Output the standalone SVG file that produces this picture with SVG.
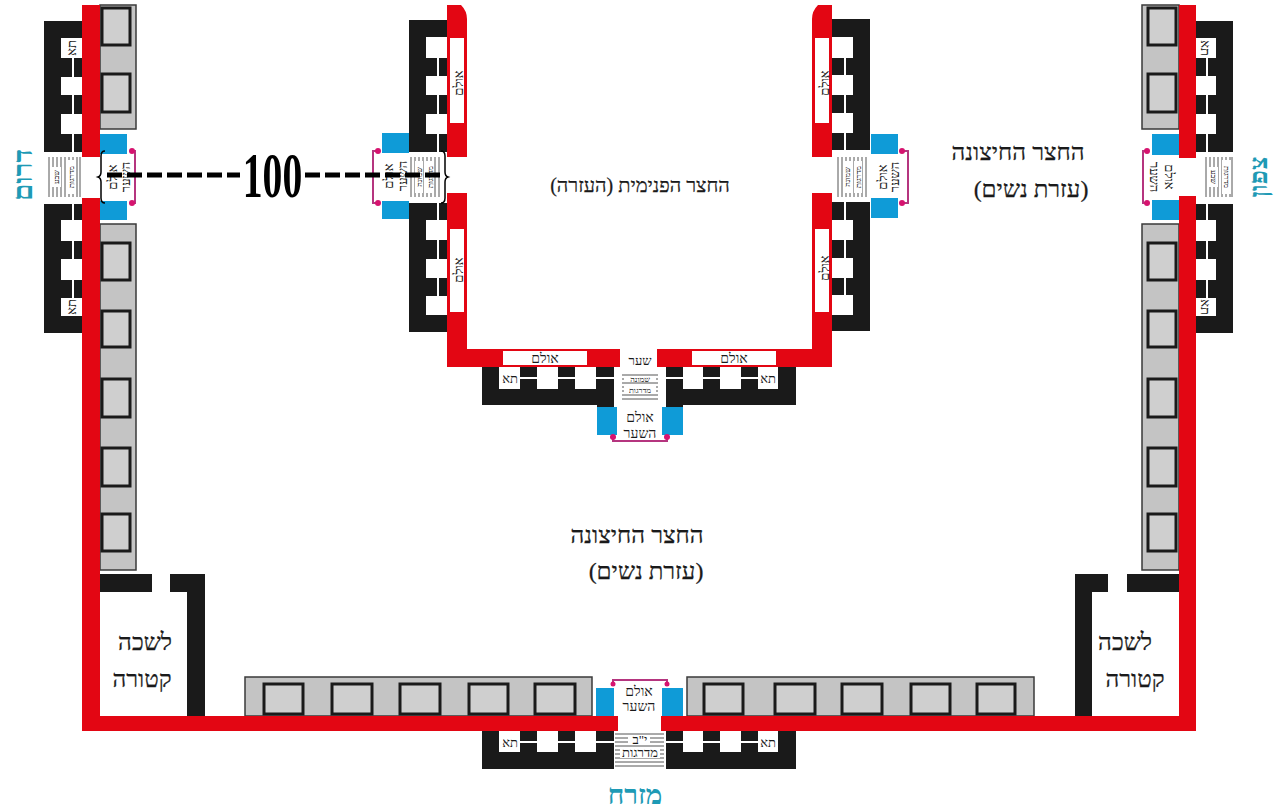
<svg xmlns="http://www.w3.org/2000/svg" width="1275" height="811" viewBox="0 0 1275 811">
<style>
.r{fill:#e30613}.k{fill:#1a1a1a}.w{fill:#fff}.b{fill:#0f9bd7}
.g{fill:#c4c4c4;stroke:#3a3a3a;stroke-width:1.5}
.q{fill:#cfcfcf;stroke:#1a1a1a;stroke-width:3}
.p{fill:none;stroke:#b5357f;stroke-width:2}
.d{fill:#d6136f}
.st{stroke:#555;stroke-width:1;fill:none}
text{font-family:"Liberation Serif","DejaVu Serif",serif;fill:#1a1a1a;text-anchor:middle;direction:rtl}
.t{font-size:13px}.m{font-size:14px}.h{font-size:24px;stroke:#1a1a1a;stroke-width:.25}
.c{fill:#1e9ab5;font-size:28px;font-weight:bold}
.s{font-size:8px}
</style>
<rect width="1275" height="811" fill="#fff"/>

<g id="court-labels">
<text class="h" x="640" y="192" style="font-size:20px">החצר הפנימית (העזרה)</text>
<text class="h" x="1018" y="160">החצר החיצונה</text>
<text class="h" x="1031" y="197">(עזרת נשים)</text>
<text class="h" x="637" y="543">החצר החיצונה</text>
<text class="h" x="646" y="579">(עזרת נשים)</text>
</g>

<g id="south-chambers">
<rect class="k" x="44" y="21" width="38" height="131"/>
<rect class="k" x="44" y="204" width="38" height="129"/>
<path class="w" d="M61 38h21v20h-21zM61 77h21v18h-21zM61 114h21v20h-21zM61 220h21v21h-21zM61 259h21v21h-21zM61 298h21v18h-21z"/>
<path class="w" d="M72 58h2v19h-2zM72 95h2v19h-2zM72 134h2v18h-2zM72 204h2v16h-2zM72 241h2v18h-2zM72 280h2v18h-2z"/>
<text class="t" transform="translate(76,48) rotate(-90)">תא</text>
<text class="t" transform="translate(76,307) rotate(-90)">תא</text>
</g>
<g id="south-gate">
<rect class="b" x="100" y="134" width="27" height="20"/>
<rect class="b" x="100" y="201" width="27" height="19"/>
<path class="st" d="M49 157v40M53 157v40M57 157v40M61 157v40M65 157v40M69 157v40M73 157v40M77 157v40M80 157v40"/>
<rect class="w" x="52" y="167" width="9" height="20"/>
<rect class="w" x="66" y="160" width="10" height="34"/>
<text class="s" transform="translate(59,177) rotate(-90)">שבע</text>
<text class="s" transform="translate(74,177) rotate(-90)">מדרגות</text>
<text class="t" transform="translate(117,177) rotate(-90)">אולם</text>
<text class="t" transform="translate(130,177) rotate(-90)">השער</text>
<path class="p" d="M132 151h3v52h-3"/>
<circle class="d" cx="132" cy="151" r="3"/><circle class="d" cx="132" cy="203" r="3"/>
</g>
<g id="south-rooms">
<rect class="g" x="100" y="5" width="36" height="124"/>
<rect class="g" x="100" y="224" width="36" height="346"/>
<rect class="q" x="102" y="8" width="28" height="37"/>
<rect class="q" x="102" y="74" width="28" height="38"/>
<rect class="q" x="102" y="243" width="28" height="37"/>
<rect class="q" x="102" y="311" width="28" height="36"/>
<rect class="q" x="102" y="379" width="28" height="38"/>
<rect class="q" x="102" y="448" width="28" height="38"/>
<rect class="q" x="102" y="514" width="28" height="37"/>
</g>

<g id="north-chambers">
<rect class="k" x="1196" y="21" width="37" height="131"/>
<rect class="k" x="1196" y="204" width="37" height="129"/>
<path class="w" d="M1196 38h20v20h-20zM1196 76h20v19h-20zM1196 114h20v20h-20zM1196 220h20v21h-20zM1196 259h20v21h-20zM1196 298h20v18h-20z"/>
<path class="w" d="M1206 58h2v18h-2zM1206 95h2v19h-2zM1206 134h2v18h-2zM1206 204h2v16h-2zM1206 241h2v18h-2zM1206 280h2v18h-2z"/>
<text class="t" transform="translate(1201,48) rotate(90)">תא</text>
<text class="t" transform="translate(1201,307) rotate(90)">תא</text>
</g>
<g id="north-gate">
<rect class="b" x="1152" y="134" width="27" height="21"/>
<rect class="b" x="1152" y="200" width="27" height="20"/>
<path class="st" d="M1206 157v40M1210 157v40M1214 157v40M1218 157v40M1222 157v40M1226 157v40M1230 157v40M1232 157v40"/>
<rect class="w" x="1209" y="167" width="9" height="20"/>
<rect class="w" x="1222" y="160" width="9" height="34"/>
<text class="s" transform="translate(1211,177) rotate(90)">שבע</text>
<text class="s" transform="translate(1224,177) rotate(90)">מדרגות</text>
<text class="t" transform="translate(1165,177) rotate(90)">אולם</text>
<text class="t" transform="translate(1150,177) rotate(90)">השער</text>
<path class="p" d="M1147 151h-4v52h4"/>
<circle class="d" cx="1147" cy="151" r="3"/><circle class="d" cx="1147" cy="203" r="3"/>
</g>
<g id="north-rooms">
<rect class="g" x="1142" y="5" width="37" height="124"/>
<rect class="g" x="1142" y="224" width="37" height="346"/>
<rect class="q" x="1148" y="8" width="28" height="37"/>
<rect class="q" x="1148" y="74" width="28" height="38"/>
<rect class="q" x="1148" y="243" width="28" height="37"/>
<rect class="q" x="1148" y="311" width="28" height="36"/>
<rect class="q" x="1148" y="379" width="28" height="38"/>
<rect class="q" x="1148" y="448" width="28" height="38"/>
<rect class="q" x="1148" y="514" width="28" height="37"/>
</g>

<g id="inner-south-wing">
<rect class="k" x="409" y="20" width="38" height="132"/>
<rect class="k" x="409" y="203" width="38" height="129"/>
<path class="w" d="M426 37h21v21h-21zM426 76h21v19h-21zM426 114h21v20h-21zM426 220h21v20h-21zM426 259h21v19h-21zM426 296h21v19h-21z"/>
<path class="w" d="M437 58h2v18h-2zM437 95h2v19h-2zM437 134h2v18h-2zM437 203h2v17h-2zM437 240h2v19h-2zM437 278h2v18h-2z"/>
<path class="r" d="M447 5h14q6 6 6 14v138h-20zM447 193h20v156h153v18h-173z"/>
<rect class="w" x="450" y="38" width="14" height="85"/>
<rect class="w" x="450" y="229" width="14" height="83"/>
<text class="t" transform="translate(463,83) rotate(-90)">אולם</text>
<text class="t" transform="translate(463,270) rotate(-90)">אולם</text>
<rect class="b" x="382" y="133" width="27" height="20"/>
<rect class="b" x="382" y="201" width="27" height="18"/>
<path class="st" d="M411 157v40M415 157v40M419 157v40M423 157v40M427 157v40M431 157v40M435 157v40M439 157v40"/>
<rect class="w" x="415" y="161" width="8" height="32"/>
<rect class="w" x="426" y="161" width="8" height="32"/>
<text class="s" transform="translate(422,177) rotate(-90)">שמונה</text>
<text class="s" transform="translate(433,177) rotate(-90)">מדרגות</text>
<text class="t" transform="translate(393,176) rotate(-90)">אולם</text>
<text class="t" transform="translate(407,176) rotate(-90)">השער</text>
<path class="p" d="M378 151h-5v52h5"/>
<circle class="d" cx="378" cy="151" r="3"/><circle class="d" cx="378" cy="203" r="3"/>
</g>

<g id="inner-north-wing">
<rect class="k" x="832" y="19" width="38" height="131"/>
<rect class="k" x="832" y="202" width="38" height="129"/>
<path class="w" d="M832 37h21v21h-21zM832 75h21v20h-21zM832 113h21v20h-21zM832 220h21v20h-21zM832 258h21v20h-21zM832 295h21v20h-21z"/>
<path class="w" d="M844 58h2v17h-2zM844 95h2v18h-2zM844 133h2v17h-2zM844 202h2v18h-2zM844 240h2v18h-2zM844 278h2v17h-2z"/>
<path class="r" d="M832 5v152h-20v-138q0-8 6-14zM812 193h20v174h-175v-18h155z"/>
<rect class="w" x="815" y="38" width="14" height="85"/>
<rect class="w" x="815" y="229" width="14" height="83"/>
<text class="t" transform="translate(829,83) rotate(-90)">אולם</text>
<text class="t" transform="translate(829,268) rotate(-90)">אולם</text>
<rect class="b" x="871" y="134" width="27" height="20"/>
<rect class="b" x="871" y="198" width="27" height="20"/>
<path class="st" d="M838 157v40M842 157v40M846 157v40M850 157v40M854 157v40M858 157v40M862 157v40M866 157v40"/>
<rect class="w" x="843" y="161" width="8" height="32"/>
<rect class="w" x="854" y="161" width="8" height="32"/>
<text class="s" transform="translate(850,177) rotate(-90)">שמונה</text>
<text class="s" transform="translate(861,177) rotate(-90)">מדרגות</text>
<text class="t" transform="translate(887,177) rotate(-90)">אולם</text>
<text class="t" transform="translate(899,177) rotate(-90)">השער</text>
<path class="p" d="M902 151h6v52h-6"/>
<circle class="d" cx="902" cy="151" r="3"/><circle class="d" cx="902" cy="203" r="3"/>
</g>

<g id="inner-east-gate">
<rect class="k" x="482" y="367" width="132" height="38"/>
<rect class="k" x="666" y="367" width="130" height="38"/>
<rect class="k" x="597" y="400" width="17" height="8"/>
<rect class="k" x="666" y="400" width="17" height="8"/>
<path class="w" d="M499 367h21v22h-21zM537 367h21v22h-21zM575 367h21v22h-21zM683 367h20v22h-20zM720 367h21v22h-21zM758 367h20v22h-20z"/>
<path class="w" d="M520 377h17v2h-17zM558 377h17v2h-17zM596 377h18v2h-18zM666 377h17v2h-17zM703 377h17v2h-17zM741 377h17v2h-17z"/>
<rect class="w" x="503" y="351" width="84" height="14"/>
<rect class="w" x="692" y="351" width="84" height="14"/>
<text class="t" x="545" y="363" style="font-size:14px">אולם</text>
<text class="t" x="734" y="363" style="font-size:14px">אולם</text>
<text class="t" x="510" y="383">תא</text>
<text class="t" x="768" y="383">תא</text>
<text class="t" x="640" y="365">שער</text>
<path class="st" d="M622 375h36M622 379h36M622 383h36M622 387h36M622 391h36M622 395h36M622 399h36"/>
<rect class="w" x="624" y="376" width="32" height="6"/>
<rect class="w" x="624" y="386" width="32" height="6"/>
<text class="s" x="640" y="382">שמונה</text>
<text class="s" x="640" y="393">מדרגות</text>
<rect class="b" x="597" y="407" width="20" height="28"/>
<rect class="b" x="662" y="407" width="21" height="28"/>
<text class="m" x="640" y="422">אולם</text>
<text class="m" x="640" y="438">השער</text>
<path class="p" d="M613 437v4h54v-4"/>
<circle class="d" cx="613" cy="437" r="3"/><circle class="d" cx="667" cy="437" r="3"/>
</g>

<g id="outer-east-gate">
<rect class="k" x="482" y="731" width="132" height="38"/>
<rect class="k" x="666" y="731" width="130" height="38"/>
<path class="w" d="M499 731h21v21h-21zM537 731h21v21h-21zM575 731h21v21h-21zM683 731h20v21h-20zM720 731h21v21h-21zM758 731h20v21h-20z"/>
<path class="w" d="M520 741h17v2h-17zM558 741h17v2h-17zM596 741h18v2h-18zM666 741h17v2h-17zM703 741h17v2h-17zM741 741h17v2h-17z"/>
<text class="t" x="510" y="747">תא</text>
<text class="t" x="768" y="747">תא</text>
<path class="st" d="M615 734h49M615 738h49M615 742h49M615 746h49M615 750h49M615 754h49M615 758h49M615 762h49M615 766h49"/>
<rect class="w" x="628" y="735" width="22" height="9"/>
<rect class="w" x="620" y="747" width="40" height="11"/>
<text class="t" x="640" y="744">י"ב</text>
<text class="t" x="640" y="757">מדרגות</text>
<rect class="b" x="596" y="688" width="18" height="28"/>
<rect class="b" x="662" y="688" width="21" height="28"/>
<text class="m" x="639" y="696">אולם</text>
<text class="m" x="639" y="711">השער</text>
<path class="p" d="M613 684v-4h54v4"/>
<circle class="d" cx="613" cy="684" r="2.500"/><circle class="d" cx="667" cy="684" r="2.500"/>
</g>

<g id="east-rooms">
<rect class="g" x="245" y="677" width="347" height="39"/>
<rect class="g" x="687" y="677" width="347" height="39"/>
<rect class="q" x="264" y="684" width="39" height="30"/>
<rect class="q" x="332" y="684" width="40" height="30"/>
<rect class="q" x="400" y="684" width="40" height="30"/>
<rect class="q" x="469" y="684" width="39" height="30"/>
<rect class="q" x="535" y="684" width="40" height="30"/>
<rect class="q" x="704" y="684" width="39" height="30"/>
<rect class="q" x="775" y="684" width="40" height="30"/>
<rect class="q" x="842" y="684" width="40" height="30"/>
<rect class="q" x="911" y="684" width="39" height="30"/>
<rect class="q" x="977" y="684" width="38" height="30"/>
</g>

<g id="incense-chamber-south">
<path class="k" d="M100 574h52v18h-52zM170 574h35v142h-18v-124h-17z"/>
<text class="h" x="145" y="650">לשכה</text>
<text class="h" x="142" y="687">קטורה</text>
</g>
<g id="incense-chamber-north">
<path class="k" d="M1127 574h52v18h-52zM1075 574h33v18h-16v124h-17z"/>
<text class="h" x="1125" y="650">לשכה</text>
<text class="h" x="1135" y="687">קטורה</text>
</g>

<g id="outer-wall">
<path class="r" d="M82 5h18v152h-18zM82 198h18v518h518v15h-536zM1179 5h17v153h-17zM1179 196h17v535h-535v-15h518z"/>
</g>

<g id="directions">
<text class="c" transform="translate(32,175) rotate(-90)">דרום</text>
<text class="c" transform="translate(1267,177) rotate(-90)" style="font-size:26px">צפון</text>
<text class="c" x="635" y="804">מזרח</text>
</g>

<g id="connectors">
<path d="M107 175H240M305 175H440" fill="none" stroke="#000" stroke-width="5" stroke-dasharray="15 5"/>
<path d="M105 151q-4 0-4 5v16q0 4-3 5q3 1 3 5v16q0 5 4 5" fill="none" stroke="#000" stroke-width="1.500"/>
<path d="M441 151q4 0 4 5v16q0 4 3 5q-3 1-3 5v16q0 5-4 5" fill="none" stroke="#000" stroke-width="1.500"/>
<text transform="translate(272.500,197) scale(.62,1)" style="font-size:64px;font-weight:bold;fill:#000;direction:ltr">100</text>
</g>
</svg>
